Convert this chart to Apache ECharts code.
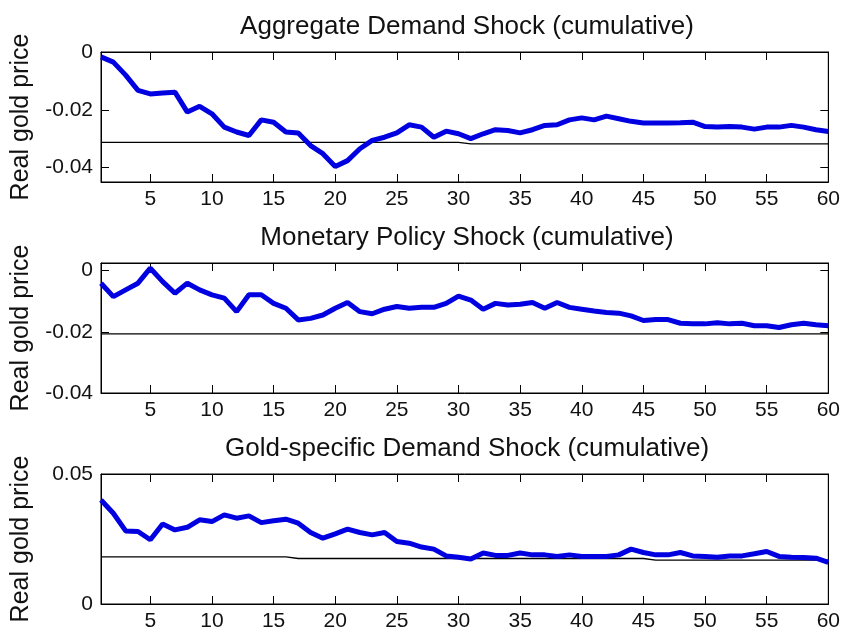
<!DOCTYPE html>
<html>
<head>
<meta charset="utf-8">
<script src="https://cdn.jsdelivr.net/npm/echarts@6/dist/echarts.min.js"></script>
<style>
  html, body { margin: 0; padding: 0; background: #fff; }
  #box { width: 843px; height: 633px; }
</style>
</head>
<body>
<div id="box"></div>
<script>
  // horizon (months after shock)
  const horizons = Array.from({ length: 60 }, (_, i) => i + 1)
  const xTicks = [5, 10, 15, 20, 25, 30, 35, 40, 45, 50, 55, 60]

  const titles = [
    'Aggregate Demand Shock (cumulative)',
    'Monetary Policy Shock (cumulative)',
    'Gold-specific Demand Shock (cumulative)'
  ]

  // cumulative responses of real gold price
  const aggDemand = [-0.0017, -0.0035, -0.008, -0.0133, -0.0145, -0.0142, -0.0139, -0.0208, -0.0188, -0.0214,
    -0.026, -0.0277, -0.0289, -0.0235, -0.0243, -0.0277, -0.028, -0.0324, -0.0352, -0.0396,
    -0.0376, -0.0335, -0.0306, -0.0295, -0.028, -0.0252, -0.026, -0.0295, -0.0274, -0.0283,
    -0.03, -0.0283, -0.0269, -0.0272, -0.028, -0.0269, -0.0254, -0.0252, -0.0235, -0.0228,
    -0.0235, -0.0222, -0.0231, -0.024, -0.0246, -0.0246, -0.0246, -0.0245, -0.0243, -0.0258,
    -0.026, -0.0258, -0.026, -0.0267, -0.026, -0.026, -0.0254, -0.026, -0.0269, -0.0275]
  const aggLevel = [-0.0313, -0.0313, -0.0313, -0.0313, -0.0313, -0.0313, -0.0313, -0.0313, -0.0313, -0.0313,
    -0.0313, -0.0313, -0.0313, -0.0313, -0.0313, -0.0313, -0.0313, -0.0313, -0.0313, -0.0313,
    -0.0313, -0.0313, -0.0313, -0.0313, -0.0313, -0.0313, -0.0313, -0.0313, -0.0313, -0.0313,
    -0.0318, -0.0318, -0.0318, -0.0318, -0.0318, -0.0318, -0.0318, -0.0318, -0.0318, -0.0318,
    -0.0318, -0.0318, -0.0318, -0.0318, -0.0318, -0.0318, -0.0318, -0.0318, -0.0318, -0.0318,
    -0.0318, -0.0318, -0.0318, -0.0318, -0.0318, -0.0318, -0.0318, -0.0318, -0.0318, -0.0318]

  const monPolicy = [-0.0041, -0.0085, -0.0063, -0.0041, 0.0008, -0.0036, -0.0074, -0.0041, -0.0063, -0.0079,
    -0.009, -0.0134, -0.0079, -0.0079, -0.0107, -0.0123, -0.0161, -0.0156, -0.0145, -0.0123,
    -0.0104, -0.0134, -0.0141, -0.0126, -0.0117, -0.0123, -0.012, -0.012, -0.0107, -0.0083,
    -0.0096, -0.0126, -0.0107, -0.0112, -0.011, -0.0104, -0.0123, -0.0104, -0.012, -0.0126,
    -0.0132, -0.0137, -0.0139, -0.0148, -0.0163, -0.016, -0.016, -0.0172, -0.0174, -0.0174,
    -0.017, -0.0174, -0.0172, -0.018, -0.018, -0.0186, -0.0177, -0.0172, -0.0177, -0.018]
  const monLevel = [-0.0207, -0.0207, -0.0207, -0.0207, -0.0207, -0.0207, -0.0207, -0.0207, -0.0207, -0.0207,
    -0.0207, -0.0207, -0.0207, -0.0207, -0.0207, -0.0207, -0.0207, -0.0207, -0.0207, -0.0207,
    -0.0207, -0.0207, -0.0207, -0.0207, -0.0207, -0.0207, -0.0207, -0.0207, -0.0207, -0.0207,
    -0.0207, -0.0207, -0.0207, -0.0207, -0.0207, -0.0207, -0.0207, -0.0207, -0.0207, -0.0207,
    -0.0207, -0.0207, -0.0207, -0.0207, -0.0207, -0.0207, -0.0207, -0.0207, -0.0207, -0.0207,
    -0.0207, -0.0207, -0.0207, -0.0207, -0.0207, -0.0207, -0.0207, -0.0207, -0.0207, -0.0207]

  const goldDemand = [0.040, 0.0349, 0.0281, 0.0279, 0.0247, 0.0308, 0.0285, 0.0295, 0.0324, 0.0317,
    0.0343, 0.033, 0.0339, 0.0313, 0.032, 0.0326, 0.0311, 0.0275, 0.0253, 0.027,
    0.0288, 0.0275, 0.0266, 0.0275, 0.024, 0.0234, 0.0219, 0.0211, 0.0185, 0.018,
    0.0173, 0.0196, 0.0187, 0.0187, 0.0196, 0.0189, 0.0189, 0.0183, 0.0189, 0.0183,
    0.0183, 0.0183, 0.0189, 0.0211, 0.0198, 0.0189, 0.0189, 0.0198, 0.0185, 0.0183,
    0.018, 0.0185, 0.0185, 0.0193, 0.0202, 0.0183, 0.018, 0.0179, 0.0176, 0.016]
  const goldLevel = [0.0181, 0.0181, 0.0181, 0.0181, 0.0181, 0.0181, 0.0181, 0.0181, 0.0181, 0.0181,
    0.0181, 0.0181, 0.0181, 0.0181, 0.0181, 0.0181, 0.0175, 0.0175, 0.0175, 0.0175,
    0.0175, 0.0175, 0.0175, 0.0175, 0.0175, 0.0175, 0.0175, 0.0175, 0.0175, 0.0175,
    0.0175, 0.0175, 0.0175, 0.0175, 0.0175, 0.0175, 0.0175, 0.0175, 0.0175, 0.0175,
    0.0175, 0.0175, 0.0175, 0.0175, 0.0175, 0.0169, 0.0169, 0.0169, 0.0169, 0.0169,
    0.0169, 0.0169, 0.0169, 0.0169, 0.0169, 0.0169, 0.0169, 0.0169, 0.0169, 0.0169]

  const yRanges = [[-0.045, 0], [-0.04, 0.0025], [0, 0.05]]
  const yTicks = [[-0.04, -0.02, 0], [-0.04, -0.02, 0], [0, 0.05]]
  const responses = [aggDemand, monPolicy, goldDemand]
  const levels = [aggLevel, monLevel, goldLevel]

  const font = 'Liberation Sans, Arial, sans-serif'
  const gridTops = [52, 263, 474]
  const titleTops = [9, 220, 431]

  const pairs = arr => horizons.map((h, i) => [h, arr[i]])

  let grid = [], xAxis = [], yAxis = [], series = [], title = []
  for (let k = 0; k < 3; k++) {
    grid.push({ left: 101, right: 12, top: gridTops[k], height: 130, show: true, borderColor: '#000', borderWidth: 1, backgroundColor: '#fff' })
    title.push({ text: titles[k], left: 462, textAlign: 'center', top: titleTops[k], textStyle: { fontFamily: font, fontSize: 26, fontWeight: 'normal', color: '#111' } })
    // bottom + top x axes
    xAxis.push({
      gridIndex: k, type: 'value', min: 1, max: 60,
      axisLine: { onZero: false, lineStyle: { color: '#000', width: 1 } },
      axisTick: { inside: true, length: 8, customValues: xTicks, lineStyle: { color: '#000' } },
      axisLabel: { customValues: xTicks, margin: 7, fontFamily: font, fontSize: 21, color: '#111' },
      splitLine: { show: false }
    })
    xAxis.push({
      gridIndex: k, type: 'value', min: 1, max: 60, position: 'top',
      axisLine: { onZero: false, lineStyle: { color: '#000', width: 1 } },
      axisTick: { inside: true, length: 8, customValues: xTicks, lineStyle: { color: '#000' } },
      axisLabel: { show: false },
      splitLine: { show: false }
    })
    // left + right y axes
    yAxis.push({
      gridIndex: k, type: 'value', min: yRanges[k][0], max: yRanges[k][1],
      name: 'Real gold price', nameLocation: 'middle', nameGap: 67, nameRotate: 90,
      nameTextStyle: { fontFamily: font, fontSize: 25, color: '#111' },
      axisLine: { show: true, onZero: false, lineStyle: { color: '#000', width: 1 } },
      axisTick: { inside: true, length: 8, customValues: yTicks[k], lineStyle: { color: '#000' } },
      axisLabel: { customValues: yTicks[k], margin: 8, fontFamily: font, fontSize: 21, color: '#111', formatter: v => String(v) },
      splitLine: { show: false }
    })
    yAxis.push({
      gridIndex: k, type: 'value', min: yRanges[k][0], max: yRanges[k][1], position: 'right',
      axisLine: { show: true, onZero: false, lineStyle: { color: '#000', width: 1 } },
      axisTick: { inside: true, length: 8, customValues: yTicks[k], lineStyle: { color: '#000' } },
      axisLabel: { show: false },
      splitLine: { show: false }
    })
    series.push({
      type: 'line', xAxisIndex: 2 * k, yAxisIndex: 2 * k, data: pairs(levels[k]),
      showSymbol: false, lineStyle: { color: '#000', width: 1.3 }, z: 2
    })
    series.push({
      type: 'line', xAxisIndex: 2 * k, yAxisIndex: 2 * k, data: pairs(responses[k]),
      showSymbol: false, lineStyle: { color: '#0000e0', width: 5 }, z: 3
    })
  }

  let myChart = echarts.init(document.getElementById('box'))
  myChart.setOption({
    backgroundColor: '#fff',
    animation: false,
    title: title,
    grid: grid,
    xAxis: xAxis,
    yAxis: yAxis,
    series: series
  })
</script>
</body>
</html>
